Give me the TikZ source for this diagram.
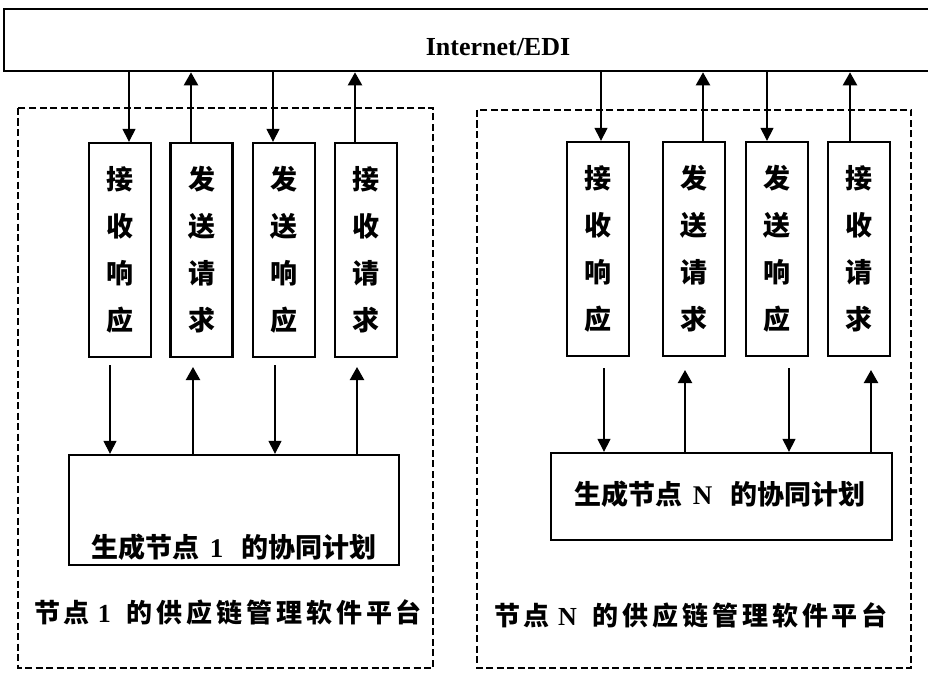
\documentclass[tikz,border=0pt]{standalone}
\usepackage{fontspec}
\setmainfont{Liberation Serif}
\newfontfamily\cjk{Noto Sans CJK SC}
\newfontfamily\cjksp{Noto Sans CJK SC}[LetterSpace=15]
\usetikzlibrary{arrows.meta}
\begin{document}
\begin{tikzpicture}[x=1pt,y=-1pt,
  box/.style={draw, line width=2.3pt, inner sep=0pt},
  vbox/.style={box, minimum width=62pt, minimum height=214pt, align=center,
    font=\cjk\bfseries\fontsize{27}{47}\selectfont},
  frame/.style={draw, line width=2.6pt, dash pattern=on 7pt off 3.5pt},
  down/.style={-{Triangle[length=13pt,width=13pt]}, line width=1.1pt},
  up/.style={-{Triangle[length=13pt,width=14pt]}, line width=2.2pt},
  plantext/.style={inner sep=0pt, font=\cjk\bfseries\fontsize{27}{30}\selectfont},
  captext/.style={inner sep=0pt, font=\cjksp\bfseries\fontsize{26}{30}\selectfont},
]
\useasboundingbox (0,0) rectangle (928,674);
\fill[white] (0,0) rectangle (928,674);

% Internet bar
\node[box, anchor=north west, minimum width=940pt, minimum height=62pt] (bar) at (3,8) {};
\node[inner sep=0pt, anchor=base, font=\bfseries\fontsize{26}{28}\selectfont] (net) at (498,56) {Internet/EDI};

% dashed frames
\draw[frame] (18,108) rectangle (433,668);
\draw[frame] (477,110) rectangle (911,668);

% left vertical boxes
\node[vbox] (L1) at (120,250) {接\\收\\响\\应};
\node[vbox] (L2) at (201.5,250) {发\\送\\请\\求};
\node[vbox] (L3) at (284,250) {发\\送\\响\\应};
\node[vbox] (L4) at (366,250) {接\\收\\请\\求};

% right vertical boxes
\node[vbox] (R1) at (598,249) {接\\收\\响\\应};
\node[vbox] (R2) at (694,249) {发\\送\\请\\求};
\node[vbox] (R3) at (777,249) {发\\送\\响\\应};
\node[vbox] (R4) at (859,249) {接\\收\\请\\求};

% plan boxes
\node[box, minimum width=330pt, minimum height=110pt] (P1) at (234,510) {};
\node[plantext] (P1t) at (234,547) {生成节点\hspace{10pt}{\rmfamily\bfseries 1}\hspace{18pt}的协同计划};
\node[box, minimum width=341pt, minimum height=87pt] (PN) at (721.5,496.5) {};
\node[plantext] (PNt) at (720,494) {生成节点\hspace{10pt}{\rmfamily\bfseries N}\hspace{18pt}的协同计划};

% captions
\node[captext] (C1) at (228,612) {节点\hspace{8pt}{\rmfamily\bfseries 1}\hspace{16pt}的供应链管理软件平台};
\node[captext] (CN) at (691,615) {节点\hspace{8pt}{\rmfamily\bfseries N}\hspace{16pt}的供应链管理软件平台};

% top connector x positions
\coordinate (tl1) at (129,0);
\coordinate (tl2) at (191,0);
\coordinate (tl3) at (273,0);
\coordinate (tl4) at (355,0);
\coordinate (tr1) at (601,0);
\coordinate (tr2) at (703,0);
\coordinate (tr3) at (767,0);
\coordinate (tr4) at (850,0);

\draw[down] (bar.south -| tl1) -- (L1.north -| tl1);
\draw[up]   (L2.north -| tl2) -- (bar.south -| tl2);
\draw[down] (bar.south -| tl3) -- (L3.north -| tl3);
\draw[up]   (L4.north -| tl4) -- (bar.south -| tl4);
\draw[down] (bar.south -| tr1) -- (R1.north -| tr1);
\draw[up]   (R2.north -| tr2) -- (bar.south -| tr2);
\draw[down] (bar.south -| tr3) -- (R3.north -| tr3);
\draw[up]   (R4.north -| tr4) -- (bar.south -| tr4);

% bottom connector free ends
\coordinate (bl1) at (110,365);
\coordinate (bl2) at (193,367);
\coordinate (bl3) at (275,365);
\coordinate (bl4) at (357,367);
\coordinate (br1) at (604,368);
\coordinate (br2) at (685,370);
\coordinate (br3) at (789,368);
\coordinate (br4) at (871,370);

\draw[down] (bl1) -- (P1.north -| bl1);
\draw[up]   (P1.north -| bl2) -- (bl2);
\draw[down] (bl3) -- (P1.north -| bl3);
\draw[up]   (P1.north -| bl4) -- (bl4);
\draw[down] (br1) -- (PN.north -| br1);
\draw[up]   (PN.north -| br2) -- (br2);
\draw[down] (br3) -- (PN.north -| br3);
\draw[up]   (PN.north -| br4) -- (br4);
\end{tikzpicture}
\end{document}
